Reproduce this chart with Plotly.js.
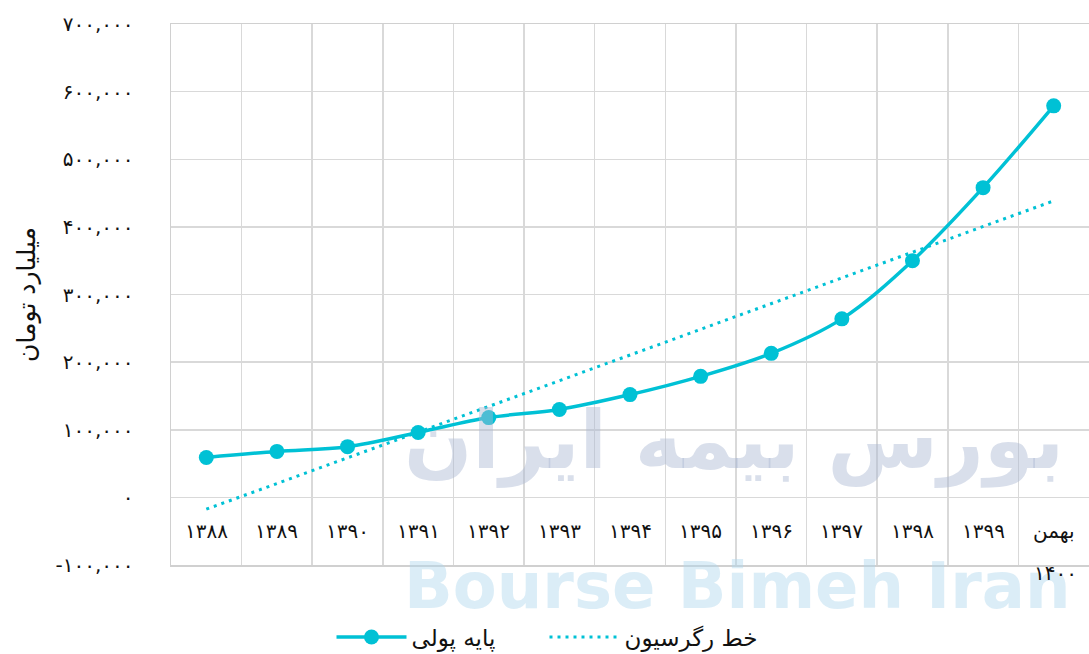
<!DOCTYPE html>
<html><head><meta charset="utf-8">
<script src="https://cdn.plot.ly/plotly-3.0.1.min.js"></script>
<style>html,body{margin:0;padding:0;background:#fff}#chart{width:1089px;height:654px}</style>
</head><body><div id="chart"></div>
<script>
const categories = ['۱۳۸۸','۱۳۸۹','۱۳۹۰','۱۳۹۱','۱۳۹۲','۱۳۹۳','۱۳۹۴','۱۳۹۵','۱۳۹۶','۱۳۹۷','۱۳۹۸','۱۳۹۹','بهمن ۱۴۰۰'];
const baseMoney = [59000, 68000, 75000, 96000, 118000, 130000, 152000, 179000, 213000, 264000, 350000, 458000, 579000];
const regressionEnds = [-17500, 438500];
const yTickVals = [-100000, 0, 100000, 200000, 300000, 400000, 500000, 600000, 700000];
const yTickText = ['-۱۰۰,۰۰۰','۰','۱۰۰,۰۰۰','۲۰۰,۰۰۰','۳۰۰,۰۰۰','۴۰۰,۰۰۰','۵۰۰,۰۰۰','۶۰۰,۰۰۰','۷۰۰,۰۰۰'];
const seriesNames = ['پایه پولی', 'خط رگرسیون'];
const yTitle = 'میلیارد تومان';

const CYAN = '#00C1D5';
const FONT = 'DejaVu Sans, Noto Sans, sans-serif';

const traces = [
  {
    x: categories, y: baseMoney, name: seriesNames[0], type: 'scatter', mode: 'lines+markers',
    line: {color: CYAN, width: 3.5, shape: 'spline'},
    marker: {color: CYAN, size: 15}
  },
  {
    x: [categories[0], categories[categories.length - 1]], y: regressionEnds, name: seriesNames[1],
    type: 'scatter', mode: 'lines',
    line: {color: CYAN, width: 3, dash: '3px,5px'}
  }
];

const annotations = [];
// watermark
annotations.push({xref: 'paper', yref: 'paper', x: 0.252, y: 0.23, xanchor: 'left', yanchor: 'middle',
  text: '<b>بورس بیمه ایران</b>', showarrow: false, font: {family: FONT, size: 80, color: 'rgba(170,185,210,0.45)'}});
annotations.push({xref: 'paper', yref: 'paper', x: 0.252, y: -0.038, xanchor: 'left', yanchor: 'middle',
  text: '<b>Bourse Bimeh Iran</b>', showarrow: false, font: {family: FONT, size: 64, color: 'rgba(175,215,238,0.45)'}});
categories.forEach(c => {
  const parts = c.split(' ');
  annotations.push({x: c, y: -50000, xref: 'x', yref: 'y', text: parts[0], showarrow: false,
    font: {family: FONT, size: 20, color: '#111'}});
  if (parts.length > 1) {
    annotations.push({x: c, y: -0.015, xref: 'x', yref: 'paper', yanchor: 'middle', xshift: 2,
      text: parts[1], showarrow: false, font: {family: FONT, size: 20, color: '#111'}});
  }
});

const layout = {
  width: 1089, height: 654,
  margin: {l: 171, r: 0, t: 24, b: 89},
  paper_bgcolor: '#fff', plot_bgcolor: '#fff',
  font: {family: FONT, color: '#111'},
  showlegend: true,
  legend: {orientation: 'h', xref: 'container', yref: 'container', x: 0.5, xanchor: 'center', y: 0.026, yanchor: 'middle',
    font: {family: FONT, size: 23, color: '#111'}, traceorder: 'normal', itemwidth: 70, entrywidth: 128},
  xaxis: {
    type: 'category', categoryorder: 'array', categoryarray: categories,
    range: [-0.5, categories.length - 0.5], tickson: 'boundaries',
    showticklabels: false, ticks: '', showgrid: true, gridcolor: '#D9D9D9', gridwidth: 1.5,
    showline: true, linecolor: '#D0D0D0', linewidth: 1.5, mirror: true, zeroline: false
  },
  yaxis: {
    range: [-100000, 700000], tickvals: yTickVals, ticktext: yTickText,
    tickfont: {family: FONT, size: 20, color: '#111'}, ticklabelstandoff: 32,
    showgrid: true, gridcolor: '#D9D9D9', gridwidth: 1.5, zeroline: false,
    showline: true, linecolor: '#D0D0D0', linewidth: 1.5, mirror: true, ticks: '',
    title: {text: yTitle, font: {family: FONT, size: 25, color: '#111'}, standoff: 12}
  },
  annotations: annotations
};

Plotly.newPlot('chart', traces, layout, {displayModeBar: false, staticPlot: true});
</script>
</body></html>
